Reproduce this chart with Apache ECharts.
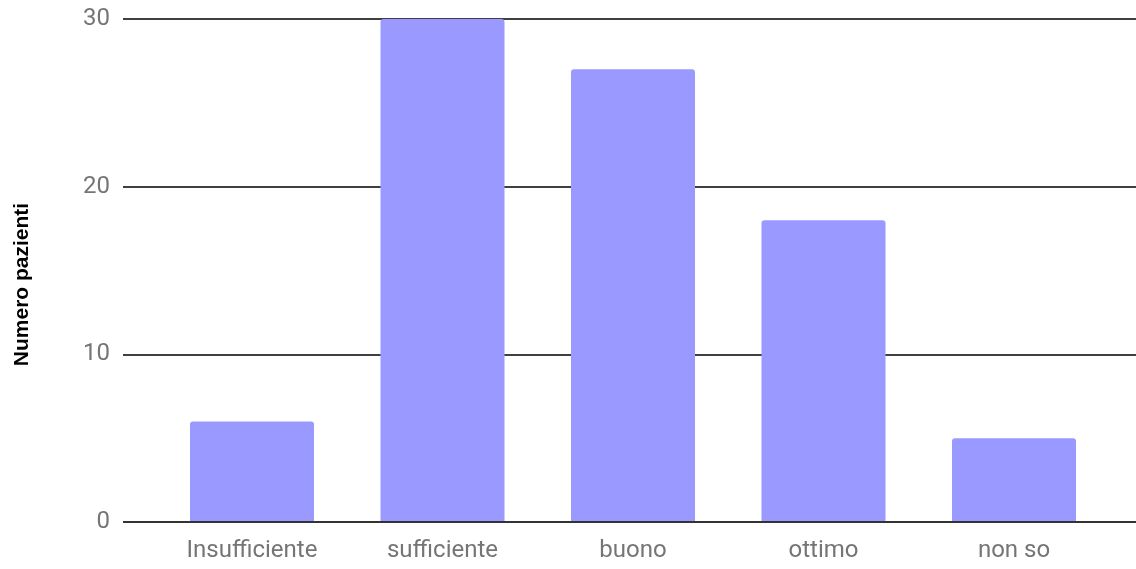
<!DOCTYPE html>
<html><head><meta charset="utf-8">
<script src="https://cdn.jsdelivr.net/npm/echarts@6/dist/echarts.min.js"></script>
<style>html,body{margin:0;padding:0;background:#fff}#c{width:1136px;height:569px}</style>
</head><body><div id="c"></div>
<script>
const categories = ['Insufficiente', 'sufficiente', 'buono', 'ottimo', 'non so'];
const values = [6, 30, 27, 18, 5];
const yTicks = [0, 10, 20, 30];
const yTitle = 'Numero pazienti';

const chart = echarts.init(document.getElementById('c'));
const labelFont = {color: '#757575', fontSize: 24, fontFamily: 'Roboto'};
chart.setOption({
  animation: false,
  grid: [
    {left: 123, right: 0, top: 19, bottom: 47},
    {left: 156.75, right: 26.75, top: 19, bottom: 47}
  ],
  xAxis: [
    {gridIndex: 0, type: 'value', min: 0, max: 1, show: false},
    {gridIndex: 1, type: 'category', data: categories,
     axisLine: {show: false}, axisTick: {show: false},
     axisLabel: Object.assign({margin: 17}, labelFont)}
  ],
  yAxis: [
    {gridIndex: 0, type: 'value', min: yTicks[0], max: yTicks[yTicks.length-1], interval: 10,
     name: yTitle, nameLocation: 'middle', nameRotate: 90, nameGap: 90,
     nameTextStyle: {fontFamily: 'Liberation Sans', fontWeight: 'bold', fontSize: 21, color: '#000', padding: [0, 28, 0, 0]},
     axisLine: {show: false}, axisTick: {show: false},
     axisLabel: Object.assign({margin: 13}, labelFont),
     splitLine: {lineStyle: {color: '#000', width: 1.5}}},
    {gridIndex: 1, type: 'value', min: yTicks[0], max: yTicks[yTicks.length-1], interval: 10, show: false}
  ],
  series: [
    {type: 'bar', xAxisIndex: 1, yAxisIndex: 1, data: values, barWidth: 124,
     itemStyle: {color: '#9999ff', borderRadius: [3, 3, 0, 0]}, z: 3},
    {type: 'line', xAxisIndex: 0, yAxisIndex: 0, data: [[0, 0], [1, 0]], symbol: 'none',
     lineStyle: {color: '#333', width: 2}, z: 5, silent: true}
  ]
});
</script></body></html>
